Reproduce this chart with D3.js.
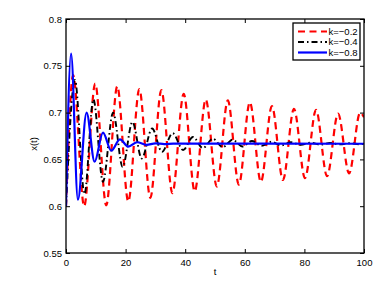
<!DOCTYPE html>
<html>
<head>
<meta charset="utf-8">
<script src="https://d3js.org/d3.v7.min.js"></script>
<style>
  body { margin:0; background:#fff; }
  text { font-family: "Liberation Sans", Arial, sans-serif; }
</style>
</head>
<body>
<div id="chart"></div>
<script>
// k = -0.2 (red dashed) : t, x(t) read at the turning points
var redT = [0, 2.4, 6.1, 9.8, 13.5, 17.2, 20.9, 24.6, 28.3, 32.0, 35.7, 39.5, 43.2, 46.9, 50.6, 54.3, 58.0, 61.7, 65.4, 69.1, 72.8, 76.5, 80.2, 83.9, 87.6, 91.3, 95.0, 98.7, 100];
var redX = [0.600, 0.740, 0.600, 0.731, 0.601, 0.728, 0.605, 0.725, 0.609, 0.724, 0.614, 0.720, 0.616, 0.714, 0.621, 0.713, 0.623, 0.711, 0.626, 0.707, 0.628, 0.704, 0.630, 0.703, 0.632, 0.699, 0.635, 0.700, 0.695];
// k = -0.4 (black dash-dot)
var blackT = [0, 3.0, 6.2, 9.2, 12.4, 15.8, 19.0, 22.3, 25.4, 28.9, 32.2, 35.8, 39.3, 42.6, 45.9, 49.3, 52.6, 55.9, 59.2, 62.4, 65.6, 68.9, 72.2, 75.5, 78.8, 82.0, 85.4, 88.6, 92.0, 95.2, 98.5, 100];
var blackX = [0.600, 0.735, 0.613, 0.714, 0.626, 0.700, 0.642, 0.690, 0.651, 0.683, 0.658, 0.678, 0.660, 0.674, 0.662, 0.672, 0.663, 0.671, 0.6638, 0.6697, 0.6645, 0.6688, 0.6650, 0.6683, 0.6655, 0.6678, 0.6658, 0.6675, 0.6660, 0.6673, 0.6662, 0.6667];
// k = -0.8 (blue solid)
var blueT = [0, 1.7, 4.0, 6.9, 9.6, 12.4, 15.2, 18.1, 20.9, 23.9, 27, 30, 33, 36, 100];
var blueX = [0.600, 0.763, 0.607, 0.700, 0.6475, 0.6785, 0.6593, 0.6715, 0.6636, 0.6683, 0.6655, 0.6672, 0.6664, 0.6668, 0.6667];

var xTicks = [0, 20, 40, 60, 80, 100];
var yTicks = [0.55, 0.6, 0.65, 0.7, 0.75, 0.8];
var labels = ["k=\u22120.2", "k=\u22120.4", "k=\u22120.8"];

var margin = {top:19, right:26, bottom:32, left:66},
    width  = 390 - margin.left - margin.right,
    height = 285 - margin.top - margin.bottom;

var svg = d3.select("#chart")
  .append("svg")
  .attr("width", 390)
  .attr("height", 285);

var g = svg.append("g")
  .attr("transform", "translate(" + margin.left + "," + margin.top + ")");

var x = d3.scaleLinear().domain([0, 100]).range([0, width]);
var y = d3.scaleLinear().domain([0.55, 0.8]).range([height, 0]);

svg.append("defs").append("clipPath").attr("id", "clip")
  .append("rect").attr("width", width).attr("height", height);

var series = [
  {t: redT, v: redX, color: "#ff0000", w: 2.2, dash: "7,4.5"},
  {t: blackT, v: blackX, color: "#000000", w: 1.9, dash: "6,3,1.5,3"},
  {t: blueT, v: blueX, color: "#0000ff", w: 2.2, dash: null}
];

var line = d3.line()
  .x(function(d){ return x(d[0]); })
  .y(function(d){ return y(d[1]); })
  .curve(d3.curveMonotoneX);

var lines = g.append("g").attr("clip-path", "url(#clip)");
series.forEach(function(s){
  lines.append("path")
    .datum(s.t.map(function(t, i){ return [t, s.v[i]]; }))
    .attr("fill", "none")
    .attr("stroke", s.color)
    .attr("stroke-width", s.w)
    .attr("stroke-dasharray", s.dash)
    .attr("d", line);
});

// axes with inward ticks on all four sides
function styleAxis(sel){
  sel.select(".domain").remove();
  sel.selectAll("line").attr("stroke", "#000").attr("stroke-width", 1);
  sel.selectAll("text").attr("font-size", 9.5).attr("fill", "#000");
}
g.append("g").attr("transform", "translate(0," + height + ")")
  .call(d3.axisBottom(x).tickValues(xTicks).tickSizeInner(-4).tickSizeOuter(0).tickPadding(6).tickFormat(d3.format("d")))
  .call(styleAxis);
g.append("g")
  .call(d3.axisTop(x).tickValues(xTicks).tickSizeInner(-4).tickSizeOuter(0).tickFormat(""))
  .call(styleAxis);
g.append("g")
  .call(d3.axisLeft(y).tickValues(yTicks).tickSizeInner(-4).tickSizeOuter(0).tickPadding(4).tickFormat(function(d){ return d3.format("")(+d.toFixed(2)); }))
  .call(styleAxis);
g.append("g").attr("transform", "translate(" + width + ",0)")
  .call(d3.axisRight(y).tickValues(yTicks).tickSizeInner(-4).tickSizeOuter(0).tickFormat(""))
  .call(styleAxis);

g.append("rect")
  .attr("width", width).attr("height", height)
  .attr("fill", "none").attr("stroke", "#000").attr("stroke-width", 1.3);

g.append("text")
  .attr("x", width / 2).attr("y", height + 22)
  .attr("text-anchor", "middle").attr("font-size", 9.5)
  .text("t");
g.append("text")
  .attr("transform", "translate(-29," + (height / 2 + 8) + ") rotate(-90)")
  .attr("text-anchor", "middle").attr("font-size", 9.5)
  .text("x(t)");

// legend
var leg = g.append("g").attr("transform", "translate(" + (width - 71) + ",4)");
leg.append("rect")
  .attr("width", 67).attr("height", 37)
  .attr("fill", "#fff").attr("stroke", "#000").attr("stroke-width", 1.3);
series.forEach(function(s, i){
  var ly = 8.5 + i * 10.5;
  leg.append("line")
    .attr("x1", 5).attr("x2", 34).attr("y1", ly).attr("y2", ly)
    .attr("stroke", s.color).attr("stroke-width", s.w)
    .attr("stroke-dasharray", s.dash);
  leg.append("text")
    .attr("x", 35.5).attr("y", ly + 3.3)
    .attr("font-size", 9.5)
    .text(labels[i]);
});
</script>
</body>
</html>
